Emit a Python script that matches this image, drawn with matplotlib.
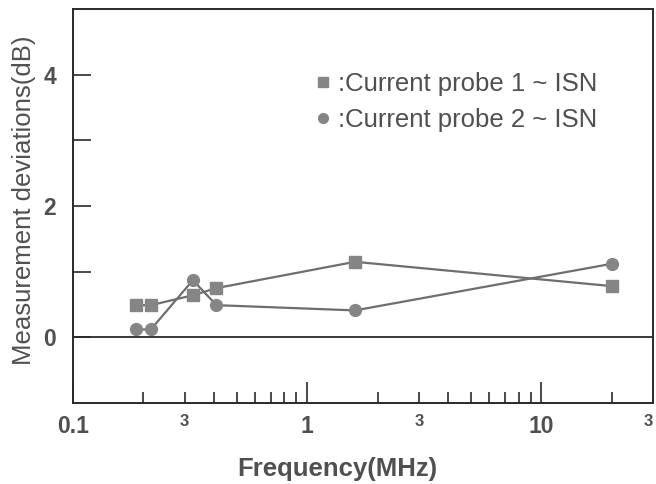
import matplotlib
matplotlib.use("Agg")
import matplotlib.pyplot as plt
from matplotlib.lines import Line2D

plt.rcParams['font.family'] = ['Liberation Sans', 'DejaVu Sans']

# frequencies (MHz) and deviations (dB)
freq1 = [0.185, 0.215, 0.325, 0.41, 1.6, 20]
dev1 = [0.49, 0.49, 0.64, 0.75, 1.15, 0.78]
freq2 = [0.185, 0.215, 0.325, 0.41, 1.6, 20]
dev2 = [0.12, 0.12, 0.87, 0.49, 0.41, 1.12]

label1 = ':Current probe 1 ~ ISN'
label2 = ':Current probe 2 ~ ISN'

xmajor = [0.1, 0.3, 1, 3, 10, 30]
xmajor_labels = ['0.1', '3', '1', '3', '10', '3']
xminor = [0.2, 0.3, 0.4, 0.5, 0.6, 0.7, 0.8, 0.9,
          2, 3, 4, 5, 6, 7, 8, 9, 20]
yticks = [0, 2, 4]
yminor = [1, 3]

txt = '#505050'
line_c = '#6e6e6e'
mark_c = '#858585'
frame_c = '#2a2a2a'

fig = plt.figure(figsize=(6.56, 4.84), dpi=100)
ax = fig.add_axes([73/656, 1-403/484, 580/656, 394/484])

ax.plot(freq1, dev1, color=line_c, lw=1.6, marker='s', ms=8.5,
        mfc=mark_c, mec=mark_c, zorder=3)
ax.plot(freq2, dev2, color=line_c, lw=1.6, marker='o', ms=8.5,
        mfc=mark_c, mec=mark_c, zorder=3)
ax.axhline(0, color=frame_c, lw=1.3, zorder=2)

ax.set_xscale('log')
ax.set_xlim(0.1, 30)
ax.set_ylim(-1, 5)

for s in ax.spines.values():
    s.set_color(frame_c)
    s.set_linewidth(1.4)

# x ticks
ax.set_xticks(xminor, minor=True)
ax.set_xticks([0.1, 1, 10])
ax.set_xticklabels([])
ax.tick_params(axis='x', which='minor', direction='in', length=8,
               width=1.2, color=frame_c, labelbottom=False)
ax.tick_params(axis='x', which='major', direction='in', length=15,
               width=1.2, color=frame_c)
for xv, lab in zip(xmajor, xmajor_labels):
    big = lab in ('0.1', '1', '10')
    ax.text(xv, -1.19 if big else -1.16, lab,
            ha='right' if xv == xmajor[-1] else 'center', va='top',
            fontsize=16.5 if big else 12, fontweight='bold',
            color=txt, clip_on=False)

# y ticks
ax.set_yticks(yticks)
ax.set_yticks(yminor, minor=True)
ax.set_yticklabels([str(v) for v in yticks], fontsize=16.5, fontweight='bold', color=txt)
ax.tick_params(axis='y', which='both', direction='in', length=13,
               width=1.2, color=frame_c, pad=12)

fig.text(24/656, 1-200/484, 'Measurement deviations(dB)', rotation=90,
         ha='center', va='center', fontsize=18.5, color=txt)
fig.text(337/656, 1-469/484, 'Frequency(MHz)', ha='center', va='center',
         fontsize=18.5, fontweight='bold', color=txt)

handles = [Line2D([], [], ls='none', marker='s', ms=7, mfc=mark_c, mec=mark_c),
           Line2D([], [], ls='none', marker='o', ms=7, mfc=mark_c, mec=mark_c)]
ax.legend(handles, [label1, label2], loc='upper left',
          bbox_to_anchor=(243/580, 1-63/394), frameon=False,
          fontsize=18.5, labelcolor=txt, handlelength=0.55, handletextpad=0.3,
          labelspacing=0.45, borderpad=0, borderaxespad=0)

fig.savefig('out.png', dpi=100)
